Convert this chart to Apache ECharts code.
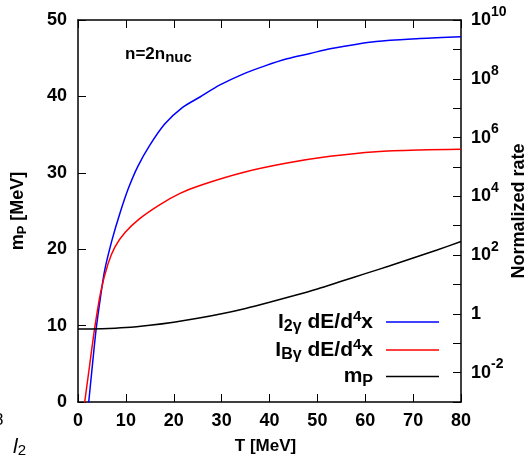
<!DOCTYPE html>
<html><head><meta charset="utf-8">
<script src="https://cdn.jsdelivr.net/npm/echarts@6/dist/echarts.min.js"></script>
<style>html,body{margin:0;padding:0;background:#fff}#c{width:530px;height:457px}</style>
</head><body><div id="c"></div>
<script>
// x axis (T in MeV)
const xMin = 0, xMax = 80, xStep = 10;
// left axis (m_P in MeV)
const leftMin = 0, leftMax = 50, leftStep = 10;
// right axis (normalized rate, log10 exponents)
const rightMinExp = -3, rightMaxExp = 10;

// I_2gamma dE/d^4x : T values and log10(rate)
const blueT   = [2.05, 2.24, 3.03, 3.82, 4.70, 5.58, 7.10, 8.71, 10.55, 12.53, 15.04, 18.11, 21.72, 25.48, 29.66, 34.46, 39.06, 43.66, 48.46, 52.64, 62.25, 71.44, 80.0];
const blueLog = [-3.27,-3.0, -1.71,-0.48,0.57, 1.49, 2.51, 3.40, 4.28,  5.03,  5.75,  6.46,  7.01,  7.38,  7.79,  8.16,  8.44,  8.68,  8.86,  9.02,  9.27,  9.37,  9.43];

// I_Bgamma dE/d^4x
const redT   = [1.19, 1.40, 2.44, 3.49, 4.74, 6.27, 7.73, 9.82, 12.95, 17.13, 21.31, 25.48, 34.47, 43.66, 52.64, 62.25, 71.44, 80.0];
const redLog = [-3.27,-3.0,-1.74,-0.48,0.74, 1.70, 2.28, 2.77, 3.25,  3.72,  4.10,  4.37,  4.81,  5.13,  5.36,  5.52,  5.58,  5.60];

// m_P (MeV)
const mpT = [0, 5, 10, 15, 20, 25, 30, 35, 40, 45, 50, 55, 60, 65, 70, 75, 80];
const mpV = [9.55, 9.6, 9.75, 10.05, 10.45, 10.95, 11.55, 12.25, 13.05, 13.9, 14.8, 15.8, 16.8, 17.8, 18.85, 19.9, 21.0];

const names = ['I2g', 'IBg', 'mP'];

const FF = '"Liberation Sans", Arial, Helvetica, sans-serif';
const pairs = (xs, ys) => xs.map((x, i) => [x, ys[i]]);
const pairsLog = (xs, ls) => xs.map((x, i) => [x, Math.pow(10, ls[i])]);

const chart = echarts.init(document.getElementById('c'), null, {renderer: 'canvas'});

const tickLabelRich = {
  m: {fontFamily: FF, fontWeight: 'bold', fontSize: 18, color: '#000', lineHeight: 30},
  p: {fontFamily: FF, fontWeight: 'bold', fontSize: 14, color: '#000', lineHeight: 14, verticalAlign: 'top'}
};
const legRich = {
  m: {fontFamily: FF, fontWeight: 'bold', fontSize: 21, color: '#000', lineHeight: 26},
  s: {fontFamily: FF, fontWeight: 'bold', fontSize: 16, color: '#000', lineHeight: 14, verticalAlign: 'bottom'},
  p: {fontFamily: FF, fontWeight: 'bold', fontSize: 15, color: '#000', lineHeight: 15, verticalAlign: 'top'},
  g: {width: 8, fontSize: 10, lineHeight: 26}
};
const legText = {
  I2g: '{m|I}{s|2γ}{m| dE/d}{p|4}{m|x}{g| }',
  IBg: '{m|I}{s|Bγ}{m| dE/d}{p|4}{m|x}{g| }',
  mP: '{m|m}{s|P}{g| }'
};
const legCenters = [322, 350, 379];

const axisCommon = {
  axisLine: {show: true, onZero: false, lineStyle: {color: '#000', width: 1.5}},
  axisTick: {show: true, inside: true, length: 8, lineStyle: {color: '#000', width: 1}},
  splitLine: {show: false},
  minorTick: {show: false}
};

const option = {
  animation: false,
  backgroundColor: '#fff',
  grid: {left: 78, right: 69, top: 20, bottom: 55, containLabel: false, outerBoundsMode: 'none'},
  legend: names.map((n, i) => ({
    data: [n], right: 91, top: legCenters[i] - 13, orient: 'vertical', align: 'right',
    icon: 'rect', itemWidth: 53, itemHeight: 1.5, padding: 0, selectedMode: false,
    formatter: (nm) => legText[nm],
    textStyle: {rich: legRich}
  })),
  xAxis: [
    Object.assign({}, axisCommon, {
      type: 'value', min: xMin, max: xMax, interval: xStep, position: 'bottom',
      name: 'T [MeV]', nameLocation: 'middle', nameGap: 36, nameMoveOverlap: false,
      nameTextStyle: {fontFamily: FF, fontWeight: 'bold', fontSize: 17, color: '#000', padding: [0, 8, 0, 0]},
      axisLabel: {margin: 10, fontFamily: FF, fontWeight: 'bold', fontSize: 18, color: '#000'}
    }),
    Object.assign({}, axisCommon, {
      type: 'value', min: xMin, max: xMax, interval: xStep, position: 'top',
      axisLabel: {show: false}
    })
  ],
  yAxis: [
    Object.assign({}, axisCommon, {
      type: 'value', min: leftMin, max: leftMax, interval: leftStep, position: 'left',
      name: '{m|m}{s|P}{m| [MeV]}', nameLocation: 'middle', nameGap: 49, nameRotate: 90,
      nameMoveOverlap: false,
      nameTextStyle: {rich: {
        m: {fontFamily: FF, fontWeight: 'bold', fontSize: 18, color: '#000', lineHeight: 22},
        s: {fontFamily: FF, fontWeight: 'bold', fontSize: 13, color: '#000', lineHeight: 12, verticalAlign: 'bottom'}
      }},
      axisLabel: {margin: 11, fontFamily: FF, fontWeight: 'bold', fontSize: 18, color: '#000'}
    }),
    Object.assign({}, axisCommon, {
      type: 'log', logBase: 10, min: Math.pow(10, rightMinExp), max: Math.pow(10, rightMaxExp),
      interval: 1, splitNumber: 13, position: 'right',
      name: 'Normalized rate', nameLocation: 'middle', nameGap: 49, nameRotate: 90,
      nameMoveOverlap: false,
      nameTextStyle: {fontFamily: FF, fontWeight: 'bold', fontSize: 18, color: '#000'},
      axisLabel: {
        margin: 10,
        formatter: (v) => {
          const e = Math.round(Math.log10(v));
          if (Math.abs(e) % 2 === 1) return '';
          if (e === 0) return '{m|1}';
          return '{m|10}{p|' + e + '}';
        },
        rich: tickLabelRich
      }
    })
  ],
  graphic: [
    {type: 'text', left: 125, top: 46, style: {
      text: '{a|n=2n}{b|nuc}',
      rich: {
        a: {fontFamily: FF, fontWeight: 'bold', fontSize: 17, color: '#000', lineHeight: 22},
        b: {fontFamily: FF, fontWeight: 'bold', fontSize: 15, color: '#000', lineHeight: 12, verticalAlign: 'bottom'}
      }
    }},
    {type: 'text', left: -6, top: 412, style: {text: '8', fontFamily: FF, fontSize: 17, fill: '#000'}},
    {type: 'text', left: 13, top: 437, style: {
      text: '{i|l}{s|2}',
      rich: {
        i: {fontFamily: FF, fontStyle: 'italic', fontSize: 21, color: '#000', lineHeight: 22},
        s: {fontFamily: FF, fontSize: 15, color: '#000', lineHeight: 12, verticalAlign: 'bottom'}
      }
    }}
  ],
  series: [
    {name: 'I2g', type: 'line', xAxisIndex: 0, yAxisIndex: 1, data: pairsLog(blueT, blueLog),
     showSymbol: false, symbol: 'none', smooth: 0.3, clip: true,
     lineStyle: {color: '#0000ff', width: 1.5}, itemStyle: {color: '#0000ff'}},
    {name: 'IBg', type: 'line', xAxisIndex: 0, yAxisIndex: 1, data: pairsLog(redT, redLog),
     showSymbol: false, symbol: 'none', smooth: 0.3, clip: true,
     lineStyle: {color: '#ff0000', width: 1.5}, itemStyle: {color: '#ff0000'}},
    {name: 'mP', type: 'line', xAxisIndex: 0, yAxisIndex: 0, data: pairs(mpT, mpV),
     showSymbol: false, symbol: 'none', smooth: 0.3, clip: true,
     lineStyle: {color: '#000', width: 1.5}, itemStyle: {color: '#000'}}
  ]
};
chart.setOption(option);
</script>
</body></html>
